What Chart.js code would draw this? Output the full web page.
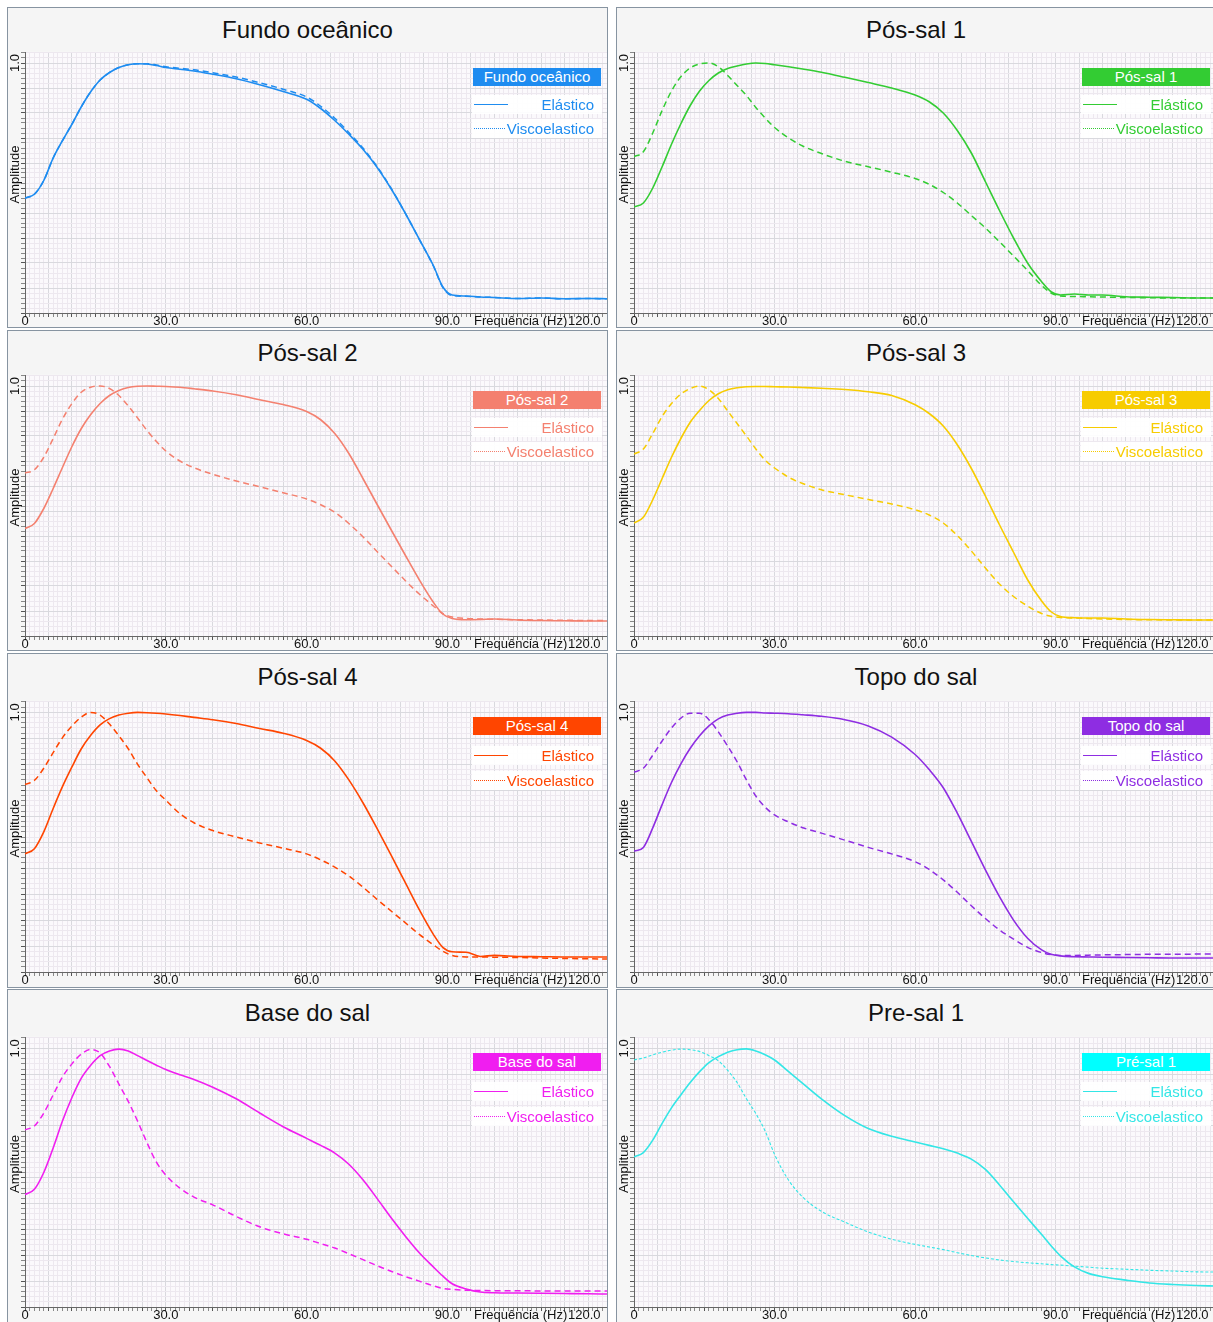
<!DOCTYPE html>
<html lang="pt">
<head>
<meta charset="utf-8">
<title>Espectros de amplitude</title>
<script src="https://cdn.jsdelivr.net/npm/chart.js@4.4.1/dist/chart.umd.min.js"></script>
<style>
  html, body { margin: 0; padding: 0; background: #fff; overflow: hidden; }
  body { width: 1213px; height: 1322px; position: relative; font-family: "Liberation Sans", Arial, sans-serif; }
  .panel { position: absolute; box-sizing: border-box; border: 1px solid #8794a1; background: #f6f6f6; }
  .title { position: absolute; box-sizing: border-box; border: 1px solid #8794a1; background: #f5f5f5;
           text-align: center; font-size: 24px; color: #111; }
  canvas { position: absolute; }
  .lg-head { position: absolute; width: 128px; height: 18px; line-height: 18px; color: #fff;
             font-size: 15px; text-align: center; }
  .lg-row { position: absolute; width: 130px; height: 19px; line-height: 19px; background: rgba(255,255,255,0.92);
            font-size: 15px; text-align: right; box-sizing: border-box; padding-right: 8px; }
  .lg-row span.mark { position: absolute; left: 2px; top: 9px; width: 34px; height: 1px; }
</style>
</head>
<body>
<script>
// ---- dados ----
const FREQ = [0, 2, 4, 6, 8, 10, 12, 14, 16, 18, 20, 22, 24, 26, 28, 30, 33, 36, 40, 45, 50, 55, 60,
  63, 66, 69, 72, 75, 78, 81, 84, 87, 89, 91, 94, 97, 100, 105, 110, 115, 120, 124];

const FUNDO_ELASTICO = [0.46, 0.475, 0.53, 0.62, 0.69, 0.755, 0.825, 0.885, 0.932, 0.962,
  0.982, 0.993, 0.997, 0.996, 0.99, 0.982, 0.975, 0.968, 0.955, 0.937, 0.913, 0.886, 0.855,
  0.818, 0.77, 0.715, 0.655, 0.583, 0.497, 0.40, 0.295, 0.19, 0.105, 0.072, 0.068, 0.064, 0.062,
  0.058, 0.06, 0.057, 0.058, 0.057];
const FUNDO_VISCO = [0.46, 0.475, 0.53, 0.62, 0.69, 0.755, 0.825, 0.885, 0.932, 0.962,
  0.982, 0.993, 0.997, 0.997, 0.992, 0.985, 0.979, 0.973, 0.961, 0.944, 0.921, 0.895, 0.864,
  0.827, 0.779, 0.722, 0.66, 0.586, 0.499, 0.40, 0.295, 0.188, 0.103, 0.07, 0.067, 0.064, 0.062,
  0.058, 0.06, 0.057, 0.058, 0.057];

const POS1_ELASTICO = [0.425, 0.44, 0.5, 0.585, 0.675, 0.757, 0.83, 0.888, 0.93, 0.96,
  0.978, 0.988, 0.996, 1.0, 0.998, 0.993, 0.985, 0.976, 0.963, 0.943, 0.922, 0.9, 0.872,
  0.845, 0.80, 0.73, 0.64, 0.525, 0.41, 0.30, 0.2, 0.125, 0.085, 0.072, 0.076, 0.072, 0.072,
  0.065, 0.063, 0.062, 0.06, 0.06];
const POS1_VISCO = [0.625, 0.645, 0.72, 0.81, 0.888, 0.945, 0.98, 0.996, 1.0, 0.985,
  0.95, 0.91, 0.87, 0.822, 0.78, 0.742, 0.70, 0.668, 0.638, 0.607, 0.585, 0.563, 0.538,
  0.515, 0.482, 0.44, 0.39, 0.34, 0.285, 0.228, 0.17, 0.11, 0.08, 0.068, 0.066, 0.065, 0.064,
  0.062, 0.061, 0.06, 0.06, 0.06];

const POS2_ELASTICO = [0.43, 0.45, 0.51, 0.59, 0.675, 0.758, 0.83, 0.886, 0.93, 0.962,
  0.982, 0.994, 0.999, 1.0, 0.999, 0.998, 0.995, 0.989, 0.98, 0.965, 0.945, 0.926, 0.898,
  0.865, 0.81, 0.73, 0.63, 0.527, 0.425, 0.324, 0.225, 0.135, 0.088, 0.07, 0.065, 0.066, 0.068,
  0.064, 0.062, 0.061, 0.06, 0.06];
const POS2_VISCO = [0.652, 0.665, 0.715, 0.79, 0.868, 0.93, 0.975, 0.995, 1.0, 0.99,
  0.962, 0.92, 0.872, 0.822, 0.778, 0.74, 0.70, 0.673, 0.647, 0.62, 0.597, 0.573, 0.548,
  0.525, 0.495, 0.45, 0.397, 0.338, 0.28, 0.222, 0.168, 0.12, 0.09, 0.076, 0.07, 0.068, 0.067,
  0.065, 0.064, 0.063, 0.062, 0.062];

const POS3_ELASTICO = [0.452, 0.475, 0.545, 0.63, 0.715, 0.79, 0.855, 0.902, 0.942, 0.969,
  0.985, 0.993, 0.997, 0.998, 0.998, 0.997, 0.996, 0.994, 0.991, 0.986, 0.977, 0.962, 0.925,
  0.89, 0.84, 0.765, 0.67, 0.56, 0.445, 0.335, 0.225, 0.14, 0.097, 0.078, 0.073, 0.072, 0.072,
  0.068, 0.066, 0.065, 0.064, 0.064];
const POS3_VISCO = [0.728, 0.748, 0.81, 0.878, 0.93, 0.968, 0.99, 1.0, 0.985, 0.95,
  0.9, 0.85, 0.8, 0.748, 0.703, 0.672, 0.635, 0.61, 0.585, 0.565, 0.546, 0.528, 0.505,
  0.484, 0.452, 0.402, 0.34, 0.272, 0.208, 0.158, 0.12, 0.09, 0.079, 0.074, 0.072, 0.07, 0.068,
  0.066, 0.065, 0.064, 0.064, 0.064];

const POS4_ELASTICO = [0.455, 0.475, 0.54, 0.63, 0.715, 0.79, 0.86, 0.912, 0.952, 0.976,
  0.99, 0.997, 1.0, 0.999, 0.997, 0.994, 0.988, 0.981, 0.972, 0.957, 0.938, 0.92, 0.892,
  0.862, 0.813, 0.74, 0.652, 0.553, 0.45, 0.345, 0.24, 0.145, 0.095, 0.078, 0.076, 0.06, 0.064,
  0.06, 0.059, 0.058, 0.058, 0.058];
const POS4_VISCO = [0.722, 0.738, 0.785, 0.845, 0.903, 0.948, 0.982, 1.0, 0.99, 0.955,
  0.91, 0.86, 0.8, 0.748, 0.698, 0.662, 0.61, 0.575, 0.545, 0.52, 0.497, 0.477, 0.455,
  0.432, 0.404, 0.37, 0.327, 0.28, 0.235, 0.19, 0.145, 0.105, 0.08, 0.064, 0.058, 0.058, 0.057,
  0.056, 0.054, 0.052, 0.051, 0.05];

const TOPO_ELASTICO = [0.465, 0.48, 0.555, 0.645, 0.73, 0.802, 0.862, 0.91, 0.948, 0.975,
  0.99, 0.997, 1.0, 1.0, 0.998, 0.997, 0.995, 0.991, 0.985, 0.972, 0.948, 0.905, 0.838,
  0.78, 0.71, 0.612, 0.503, 0.393, 0.29, 0.2, 0.13, 0.085, 0.068, 0.062, 0.059, 0.058, 0.057,
  0.056, 0.055, 0.054, 0.054, 0.054];
const TOPO_VISCO = [0.77, 0.785, 0.835, 0.89, 0.94, 0.978, 0.997, 0.997, 0.972, 0.925,
  0.87, 0.81, 0.74, 0.678, 0.635, 0.605, 0.578, 0.556, 0.535, 0.508, 0.48, 0.455, 0.425,
  0.395, 0.355, 0.307, 0.255, 0.206, 0.162, 0.127, 0.095, 0.075, 0.067, 0.064, 0.064, 0.065, 0.066,
  0.067, 0.068, 0.068, 0.069, 0.069];

const BASE_ELASTICO = [0.435, 0.455, 0.52, 0.615, 0.72, 0.81, 0.885, 0.935, 0.972, 0.99,
  0.997, 0.99, 0.972, 0.953, 0.935, 0.918, 0.898, 0.88, 0.85, 0.805, 0.75, 0.697, 0.652,
  0.625, 0.595, 0.552, 0.492, 0.42, 0.345, 0.275, 0.21, 0.155, 0.12, 0.09, 0.07, 0.058, 0.055,
  0.054, 0.053, 0.052, 0.051, 0.05];
const BASE_VISCO = [0.685, 0.7, 0.75, 0.82, 0.89, 0.94, 0.978, 0.996, 0.982, 0.93,
  0.862, 0.795, 0.718, 0.635, 0.56, 0.51, 0.46, 0.425, 0.395, 0.35, 0.31, 0.283, 0.262,
  0.245, 0.228, 0.206, 0.183, 0.16, 0.138, 0.118, 0.1, 0.082, 0.072, 0.068, 0.065, 0.064, 0.063,
  0.063, 0.062, 0.062, 0.062, 0.062];

const PRE1_ELASTICO = [0.58, 0.597, 0.645, 0.71, 0.77, 0.82, 0.868, 0.91, 0.945, 0.968,
  0.985, 0.995, 0.998, 0.99, 0.975, 0.955, 0.91, 0.865, 0.805, 0.74, 0.69, 0.66, 0.638,
  0.625, 0.612, 0.595, 0.572, 0.532, 0.472, 0.407, 0.343, 0.28, 0.237, 0.198, 0.155, 0.13, 0.117,
  0.104, 0.093, 0.087, 0.083, 0.081];
const PRE1_VISCO = [0.955, 0.963, 0.975, 0.985, 0.993, 0.997, 0.995, 0.988, 0.972, 0.952,
  0.915, 0.868, 0.805, 0.748, 0.68, 0.59, 0.49, 0.425, 0.37, 0.328, 0.29, 0.262, 0.242,
  0.232, 0.222, 0.21, 0.199, 0.19, 0.182, 0.176, 0.171, 0.167, 0.164, 0.162, 0.158, 0.154, 0.15,
  0.146, 0.142, 0.139, 0.136, 0.135];

const X_LABELS = [0, 30, 60, 90, 120];
const X_TITLE = 'Frequência (Hz)';
const Y_TITLE = 'Amplitude';
const SERIES_NAMES = ['Elástico', 'Viscoelastico'];

// painel: titulo, nome na legenda, cor, series
const PANELS = [
  { title: 'Fundo oceânico', legend: 'Fundo oceânico', color: '#1e8cf0', el: FUNDO_ELASTICO, vi: FUNDO_VISCO },
  { title: 'Pós-sal 1', legend: 'Pós-sal 1', color: '#33cc33', el: POS1_ELASTICO, vi: POS1_VISCO },
  { title: 'Pós-sal 2', legend: 'Pós-sal 2', color: '#f4806f', el: POS2_ELASTICO, vi: POS2_VISCO },
  { title: 'Pós-sal 3', legend: 'Pós-sal 3', color: '#f7cc00', el: POS3_ELASTICO, vi: POS3_VISCO },
  { title: 'Pós-sal 4', legend: 'Pós-sal 4', color: '#ff4500', el: POS4_ELASTICO, vi: POS4_VISCO },
  { title: 'Topo do sal', legend: 'Topo do sal', color: '#8e2de2', el: TOPO_ELASTICO, vi: TOPO_VISCO },
  { title: 'Base do sal', legend: 'Base do sal', color: '#f01ef0', el: BASE_ELASTICO, vi: BASE_VISCO },
  { title: 'Pre-sal 1', legend: 'Pré-sal 1', color: '#33e6e6', head: '#00ffff', el: PRE1_ELASTICO, vi: PRE1_VISCO, thinDash: true }
];

// ---- layout ----
const COLS = [{ left: 7, width: 601 }, { left: 616, width: 600 }];
const ROWS = [
  { top: 7, h: 321, th: 44, axisH: 14, lg: [52, 76] },
  { top: 330, h: 321, th: 44, axisH: 14, lg: [52, 76] },
  { top: 653, h: 335, th: 47, axisH: 15, lg: [54, 79] },
  { top: 989, h: 336, th: 47, axisH: 17, lg: [54, 79] }
];
const Y_AXIS_W = 17;
const X_MAX = 124;
const Y_MAX = 1.044;
const GRID_MAJOR = '#d9d9de';
const GRID_MINOR = '#ede8ef';
const FONT = '"Liberation Sans", Arial, sans-serif';

const isMajor = (v, step) => Math.abs(v / step - Math.round(v / step)) < 1e-6;

const axisText = {
  id: 'axisText',
  beforeDraw(chart) {
    const { ctx, chartArea: a } = chart;
    ctx.save();
    ctx.fillStyle = '#f6f6f6';
    ctx.fillRect(0, 0, chart.width, chart.height);
    ctx.fillStyle = '#fbf9fc';
    ctx.fillRect(a.left, a.top, a.right - a.left, a.bottom - a.top);
    ctx.restore();
  },
  afterDraw(chart) {
    const { ctx, chartArea: a, scales: { x, y } } = chart;
    ctx.save();
    ctx.fillStyle = '#111';
    ctx.font = '13px ' + FONT;
    ctx.textBaseline = 'middle';
    ctx.textAlign = 'center';
    const ly = a.bottom + 8.5;
    X_LABELS.forEach(v => {
      const shift = v === 120 ? -4 : 0;   // ultimo rotulo encostado na borda
      ctx.fillText(v === 0 ? '0' : v.toFixed(1), x.getPixelForValue(v) + shift, ly);
    });
    ctx.textAlign = 'right';
    ctx.fillText(X_TITLE, x.getPixelForValue(120) - 21, ly);
    ctx.textAlign = 'center';
    ctx.save();
    ctx.translate(a.left - 10, y.getPixelForValue(1));
    ctx.rotate(-Math.PI / 2);
    ctx.fillText('1.0', 0, 0);
    ctx.restore();
    ctx.translate(a.left - 10, (a.top + a.bottom) / 2 - 8);
    ctx.rotate(-Math.PI / 2);
    ctx.fillText(Y_TITLE, 0, 0);
    ctx.restore();
  }
};

function toPoints(values) {
  return FREQ.map((f, i) => ({ x: f, y: values[i] }));
}

function addDiv(cls, css, text) {
  const d = document.createElement('div');
  d.className = cls;
  Object.assign(d.style, css);
  if (text) d.textContent = text;
  document.body.appendChild(d);
  return d;
}

PANELS.forEach((p, idx) => {
  const col = COLS[idx % 2];
  const row = ROWS[Math.floor(idx / 2)];
  const L = col.left, T = row.top;

  addDiv('panel', { left: L + 'px', top: T + 'px', width: col.width + 'px', height: row.h + 'px' });
  addDiv('title', { left: L + 'px', top: T + 'px', width: col.width + 'px', height: row.th + 1 + 'px',
    lineHeight: (row.th - 1) + 'px' }, p.title);

  const cv = document.createElement('canvas');
  const cw = col.width - 2;
  const ch = row.h - row.th - 1;
  cv.width = cw; cv.height = ch;
  cv.style.left = (L + 1) + 'px';
  cv.style.top = (T + row.th) + 'px';
  cv.style.width = cw + 'px';
  cv.style.height = ch + 'px';
  document.body.appendChild(cv);

  new Chart(cv.getContext('2d'), {
    type: 'line',
    data: {
      datasets: [
        {
          label: SERIES_NAMES[1], data: toPoints(p.vi), borderColor: p.color,
          borderWidth: p.thinDash ? 1.1 : 1.5, borderDash: p.thinDash ? [3, 2] : [6, 4]
        },
        {
          label: SERIES_NAMES[0], data: toPoints(p.el), borderColor: p.color, borderWidth: 1.6
        }
      ]
    },
    options: {
      responsive: false,
      animation: false,
      devicePixelRatio: 1,
      layout: { padding: { top: 1, left: 0, right: 0, bottom: 0 } },
      plugins: { legend: { display: false }, tooltip: { enabled: false } },
      elements: { point: { radius: 0 }, line: { cubicInterpolationMode: 'monotone', fill: false } },
      scales: {
        x: {
          type: 'linear', min: 0, max: X_MAX,
          afterFit: s => { s.height = row.axisH; },
          ticks: { display: false, stepSize: 1, autoSkip: false, maxRotation: 0 },
          grid: {
            color: c => isMajor(c.tick.value, 5) ? GRID_MAJOR : GRID_MINOR,
            tickColor: c => isMajor(c.tick.value, 5) ? '#555' : '#888',
            tickLength: 4
          },
          border: { color: '#666' }
        },
        y: {
          min: 0, max: Y_MAX,
          afterFit: s => { s.width = Y_AXIS_W; },
          ticks: { display: false, stepSize: 0.02 },
          grid: {
            color: c => isMajor(c.tick.value, 0.1) ? GRID_MAJOR : GRID_MINOR,
            tickColor: c => isMajor(c.tick.value, 0.1) ? '#555' : '#888',
            tickLength: 4
          },
          border: { color: '#666' }
        }
      }
    },
    plugins: [axisText]
  });

  // legenda
  const chartTop = T + row.th + 1;
  addDiv('lg-head', { left: (L + 466) + 'px', top: (chartTop + 16) + 'px', background: p.head || p.color }, p.legend);
  SERIES_NAMES.forEach((name, k) => {
    const r = addDiv('lg-row', { left: (L + 465) + 'px', top: (chartTop + row.lg[k] - 9.5) + 'px', color: p.color }, name);
    const mark = document.createElement('span');
    mark.className = 'mark';
    if (k === 0) {
      mark.style.background = p.color;
    } else {
      mark.style.width = '32px';
      mark.style.background = 'repeating-linear-gradient(90deg, ' + p.color + ' 0 1px, transparent 1px 2px)';
    }
    r.appendChild(mark);
  });
});
</script>
</body>
</html>
